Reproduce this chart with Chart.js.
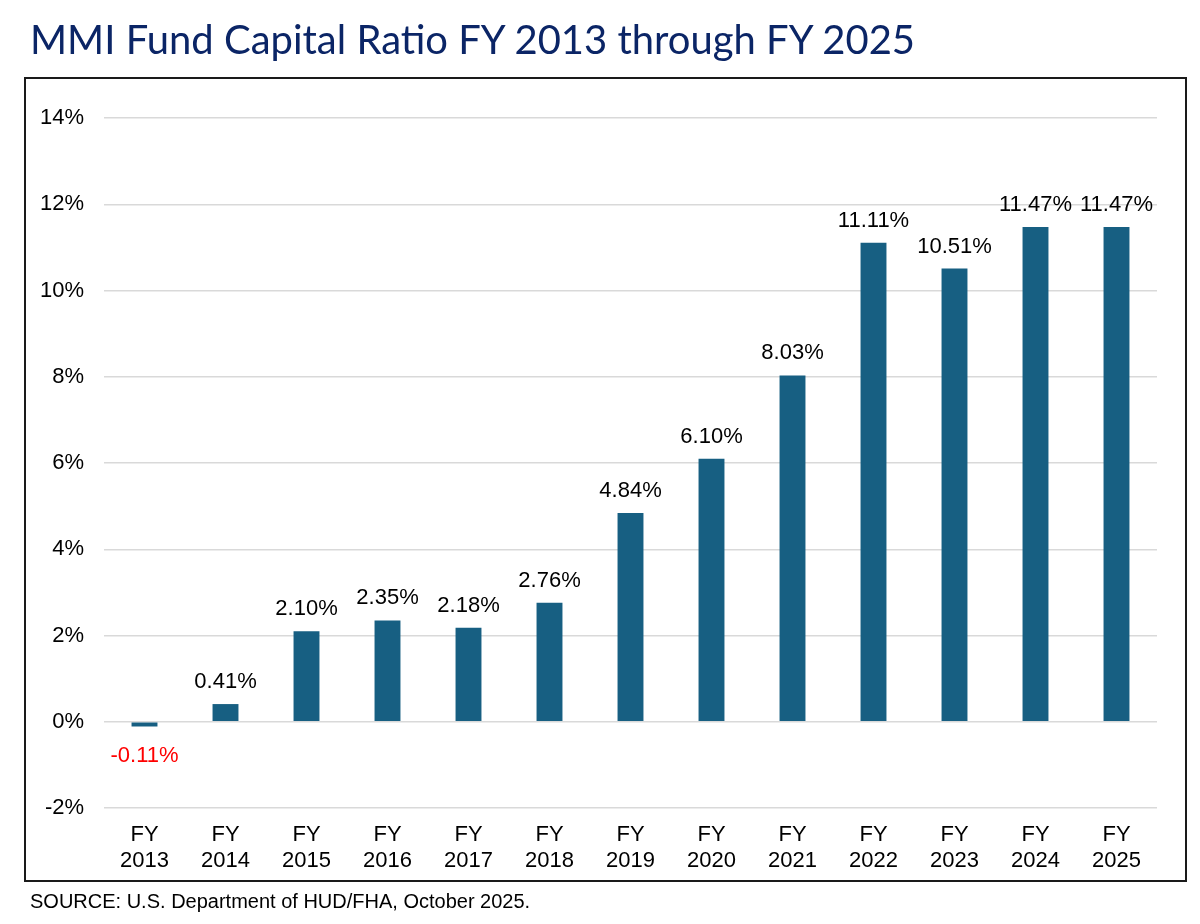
<!DOCTYPE html>
<html>
<head>
<meta charset="utf-8">
<script src="https://cdn.jsdelivr.net/npm/chart.js@4/dist/chart.umd.min.js"></script>
<style>
  html, body { margin: 0; padding: 0; background: #fff; }
  body { width: 1200px; height: 924px; position: relative; overflow: hidden; }
  #title { position: absolute; left: 30px; top: 18px; margin: 0; font-family: Lato, "Open Sans", sans-serif; font-weight: 400; font-size: 41px; line-height: 41px; color: #0b2566; white-space: nowrap; transform-origin: 0 0; }
  #source { position: absolute; left: 30px; top: 891px; margin: 0; font-family: "Liberation Sans", Arial, sans-serif; font-size: 20px; line-height: 20px; color: #000; white-space: nowrap; }
  #frame { position: absolute; left: 24px; top: 77px; width: 1159px; height: 801px; border: 2px solid #1a1a1a; pointer-events: none; }
  #wrap { position: absolute; left: 0; top: 0; width: 1200px; height: 924px; }
</style>
</head>
<body>
<div id="wrap"><canvas id="c" width="1200" height="924"></canvas></div>
<div id="frame"></div>
<h1 id="title">MMI Fund Capital Ratio FY 2013 through FY 2025</h1>
<p id="source">SOURCE: U.S. Department of HUD/FHA, October 2025.</p>
<script>
const categories = ['FY 2013','FY 2014','FY 2015','FY 2016','FY 2017','FY 2018','FY 2019','FY 2020','FY 2021','FY 2022','FY 2023','FY 2024','FY 2025'];
const capitalRatio = [-0.11, 0.41, 2.10, 2.35, 2.18, 2.76, 4.84, 6.10, 8.03, 11.11, 10.51, 11.47, 11.47];
const yTicks = [-2, 0, 2, 4, 6, 8, 10, 12, 14];

// fit title width to reference
(function(){
  const t = document.getElementById('title');
  const w = t.getBoundingClientRect().width;
  const target = 885;
  if (w > 0) t.style.transform = 'scaleX(' + (target / w) + ')';
})();

const FONT = '"Liberation Sans", Arial, sans-serif';

const valueLabels = {
  id: 'valueLabels',
  afterDatasetsDraw(chart) {
    const ctx = chart.ctx;
    const meta = chart.getDatasetMeta(0);
    ctx.save();
    ctx.font = '22px ' + FONT;
    ctx.textAlign = 'center';
    ctx.textBaseline = 'alphabetic';
    meta.data.forEach((bar, i) => {
      const v = capitalRatio[i];
      const txt = v.toFixed(2) + '%';
      if (v >= 0) {
        ctx.fillStyle = '#000';
        ctx.fillText(txt, bar.x, bar.y - 16);
      } else {
        ctx.fillStyle = '#ff0000';
        ctx.fillText(txt, bar.x, bar.y + 36);
      }
    });
    ctx.restore();
  }
};

new Chart(document.getElementById('c'), {
  type: 'bar',
  data: {
    labels: categories.map(c => c.split(' ')),
    datasets: [{
      data: capitalRatio,
      backgroundColor: '#175f82',
      borderWidth: 0,
      barPercentage: 0.32,
      categoryPercentage: 1.0
    }]
  },
  options: {
    responsive: false,
    animation: false,
    devicePixelRatio: 1,
    layout: { padding: { left: 0, right: 43, top: 118, bottom: 46 } },
    plugins: { legend: { display: false }, tooltip: { enabled: false }, title: { display: false } },
    scales: {
      x: {
        grid: { display: false },
        border: { display: false },
        ticks: { color: '#000', font: { family: FONT, size: 22, lineHeight: 1.18 }, padding: 6, maxRotation: 0, autoSkip: false },
        afterFit(scale) { scale.height = 70; }
      },
      y: {
        min: -2, max: 14,
        afterBuildTicks(scale) { scale.ticks = yTicks.map(v => ({ value: v })); },
        grid: { color: '#d9d9d9', lineWidth: 1.5, drawTicks: false },
        border: { display: false },
        ticks: { color: '#000', font: { family: FONT, size: 22 }, padding: 20, callback: v => v + '%' },
        afterFit(scale) { scale.width = 104; }
      }
    }
  },
  plugins: [valueLabels]
});
</script>
</body>
</html>
